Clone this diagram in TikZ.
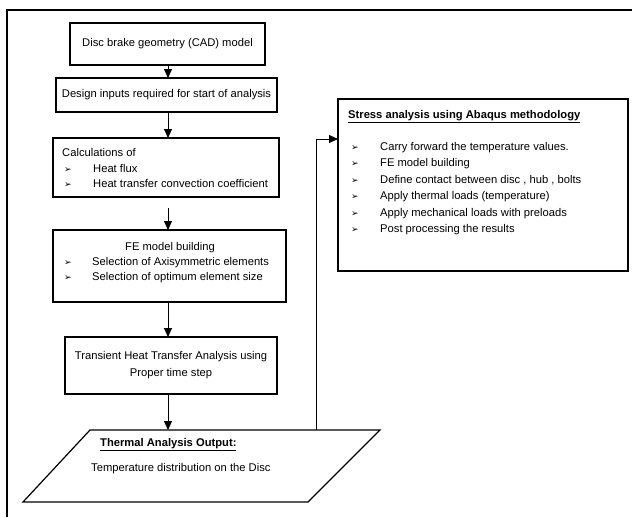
\documentclass[tikz,border=0pt]{standalone}
\usepackage{fontspec}
\setmainfont{Liberation Sans}
\newfontfamily\bulfont{DejaVu Sans}
\usetikzlibrary{arrows.meta}
\newcommand{\bul}{{\bulfont\fontsize{9}{10}\selectfont ➢}}
\begin{document}
\begin{tikzpicture}[x=1pt,y=-1pt,
  box/.style={draw,line width=1.2pt,inner sep=0pt,outer sep=0pt,align=center,font=\fontsize{11.2}{17}\selectfont},
  txt/.style={anchor=base west,inner sep=0pt,font=\fontsize{11.2}{13}\selectfont},
  bulnode/.style={anchor=base west,inner sep=0pt},
  arr/.style={line width=0.9pt,-{Triangle[length=9pt,width=8pt]}},
  conn/.style={line width=0.9pt}]
\useasboundingbox (0,0) rectangle (632,517);
% outer frame (only top and left edges visible)
\draw[line width=2pt] (632,10) -- (7,10) -- (7,517);
% boxes
\node[box,minimum width=195pt,minimum height=42pt] (b1) at (167.5,44) {Disc brake geometry (CAD) model};
\node[box,minimum width=221pt,minimum height=34pt] (b2) at (166.5,95) {Design inputs required for start of analysis};
\node[box,minimum width=226pt,minimum height=59pt] (b3) at (166,167.5) {};
\node[box,minimum width=233pt,minimum height=72pt] (b4) at (169.5,266) {};
\node[box,minimum width=212pt,minimum height=57pt] (b5) at (171,365.5) {Transient Heat Transfer Analysis using\\Proper time step};
\node[box,minimum width=290pt,minimum height=172pt] (sb) at (483,185) {};
% box 3 text
\node[txt] (t3a) at (62,156.5) {Calculations of};
\node[bulnode] (t3b1) at (64,172.5) {\bul};
\node[txt] (t3b) at (93,172.5) {Heat flux};
\node[bulnode] (t3c1) at (64,187.5) {\bul};
\node[txt] (t3c) at (93,187.5) {Heat transfer convection coefficient};
% box 4 text
\node[txt,anchor=base] (t4a) at (170,250.5) {FE model building};
\node[bulnode] (t4b1) at (64,265.5) {\bul};
\node[txt] (t4b) at (92,265.5) {Selection of Axisymmetric elements};
\node[bulnode] (t4c1) at (64,280.5) {\bul};
\node[txt] (t4c) at (92,280.5) {Selection of optimum element size};
% stress box text
\node[txt] (st) at (348,118.5) {\textbf{\underline{Stress analysis using Abaqus methodology}}};
\foreach \t [count=\i from 0] in {Carry forward the temperature values.,FE model building,{Define contact between disc , hub , bolts},Apply thermal loads (temperature),Apply mechanical loads with preloads,Post processing the results}{
  \node[bulnode] (sbb\i) at (351,150.5+16.4*\i) {\bul};
  \node[txt] (sbt\i) at (380,150.5+16.4*\i) {\t};
}
% parallelogram output
\coordinate (p1) at (90,430);
\coordinate (p2) at (380,430);
\coordinate (p3) at (308,502);
\coordinate (p4) at (23,502);
\draw[line width=1.2pt] (p1) -- (p2) -- (p3) -- (p4) -- cycle;
\node[txt] (ot) at (100,446.5) {\textbf{\underline{Thermal Analysis Output:}}};
\node[txt] (od) at (91,471.5) {Temperature distribution on the Disc};
% connectors
\coordinate (ax) at (168,0);
\coordinate (pin) at (168,430);
\coordinate (pout) at (316,430);
\coordinate (sin) at (338,139);
\draw[arr] (b1.south -| ax) -- (b2.north -| ax);
\draw[arr] (b2.south -| ax) -- (b3.north -| ax);
\draw[arr,shorten <=11pt] (b3.south -| ax) -- (b4.north -| ax);
\draw[arr] (b4.south -| ax) -- (b5.north -| ax);
\draw[arr] (b5.south -| ax) -- (pin);
\draw[arr] (pout) |- (sin);
\end{tikzpicture}
\end{document}
